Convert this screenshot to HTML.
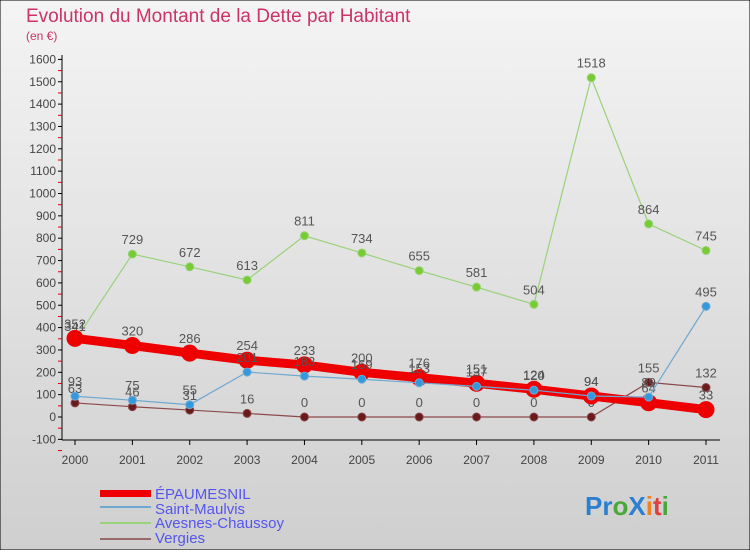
<!DOCTYPE html>
<html><head><meta charset="utf-8"><style>
html,body{margin:0;padding:0;}
body{width:750px;height:550px;overflow:hidden;font-family:"Liberation Sans",sans-serif;}
</style></head><body>
<svg id="chart" width="750" height="550" xmlns="http://www.w3.org/2000/svg">
<defs><linearGradient id="bg" x1="0" y1="0" x2="0" y2="1"><stop offset="0" stop-color="#f4f4f4"/><stop offset="1" stop-color="#cfcfcf"/></linearGradient></defs>
<rect x="0" y="0" width="750" height="550" fill="url(#bg)" stroke="#000" stroke-width="1"/>
<text x="26" y="22" font-size="19" fill="#cc3366">Evolution du Montant de la Dette par Habitant</text>
<text x="26" y="40" font-size="12" fill="#cc3366">(en €)</text>
<g id="axes"></g><g id="series"></g>
<g font-size="15" fill="#5555ee">
<rect x="100" y="490" width="51" height="7" fill="#ee0000"/>
<text x="155" y="499">ÉPAUMESNIL</text>
<line x1="100" y1="507" x2="151" y2="507" stroke="#6fa8d0" stroke-width="2"/>
<text x="155" y="514">Saint-Maulvis</text>
<line x1="100" y1="523" x2="151" y2="523" stroke="#99d27a" stroke-width="2"/>
<text x="155" y="528">Avesnes-Chaussoy</text>
<line x1="100" y1="539" x2="151" y2="539" stroke="#9a6a6a" stroke-width="2"/>
<text x="155" y="543">Vergies</text>
</g>
<text x="585" y="515" font-size="26" font-weight="bold"><tspan fill="#2a7fd0">Pr</tspan><tspan fill="#4aa83a">o</tspan><tspan fill="#2a7fd0">X</tspan><tspan fill="#f08020">i</tspan><tspan fill="#e04040">t</tspan><tspan fill="#4aa83a">i</tspan></text>
</svg>
<script>
const years=["2000","2001","2002","2003","2004","2005","2006","2007","2008","2009","2010","2011"];
const yTicks=[-100,0,100,200,300,400,500,600,700,800,900,1000,1100,1200,1300,1400,1500,1600];
const epaumesnil=[352,320,286,254,233,200,176,151,124,94,64,33];
const saintMaulvis=[93,75,55,201,183,169,153,137,120,94,89,495];
const avesnes=[341,729,672,613,811,734,655,581,504,1518,864,745];
const vergies=[63,46,31,16,0,0,0,0,0,0,155,132];
const NS="http://www.w3.org/2000/svg";
const X0=75,X1=706,Y0=417,PER=22.35;
function xs(i){return X0+(X1-X0)*i/(years.length-1);}
function ys(v){return Y0-v*PER/100;}
function mk(tag,attrs,parent){const e=document.createElementNS(NS,tag);for(const k in attrs)e.setAttribute(k,attrs[k]);parent.appendChild(e);return e;}
const axes=document.getElementById('axes');
const ax=mk('line',{x1:62,y1:55,x2:62,y2:440,stroke:'#000'},axes);


const bx=mk('line',{x1:62,y1:440,x2:720,y2:440,stroke:'#000'},axes);


yTicks.forEach(v=>{
  const y=ys(v);
  mk('line',{x1:58,y1:y,x2:62,y2:y,stroke:'#000'},axes);
  mk('line',{x1:58,y1:y+11.2,x2:62,y2:y+11.2,stroke:'#d00'},axes);
  const t=mk('text',{x:56,y:y+4,'font-size':12,'text-anchor':'end',fill:'#444'},axes);
  t.textContent=v;
  
  
});
years.forEach((yr,i)=>{
  const x=xs(i);
  mk('line',{x1:x,y1:440,x2:x,y2:445,stroke:'#000'},axes);
  const t=mk('text',{x:x,y:464,'font-size':12,'text-anchor':'middle',fill:'#444'},axes);
  t.textContent=yr;
  
  
});
const sg=document.getElementById('series');
function draw(name,data,color,lw,r,fill){
  const g=mk('g',{},sg);
  
  
  const pl=mk('polyline',{points:data.map((v,i)=>xs(i)+','+ys(v)).join(' '),fill:'none',stroke:color,'stroke-width':lw},g);
  
  
  data.forEach((v,i)=>{
    const c=mk('circle',{cx:xs(i),cy:ys(v),r:r,fill:fill,stroke:color,'stroke-width':1},g);
    
    
    const t=mk('text',{x:xs(i),y:ys(v)-10,'font-size':13,'text-anchor':'middle',fill:'#555'},g);
    t.textContent=v;
    
    
  });
}
draw('vergies',vergies,'#8a4a4a',1.2,4,'#6a1a1a');
draw('avesnes-chaussoy',avesnes,'#99d27a',1.2,4,'#77cc33');
draw('epaumesnil',epaumesnil,'#ee0000',9,8,'#ee0000');
draw('saint-maulvis',saintMaulvis,'#6fa8d0',1.2,4,'#3399dd');
</script>
</body></html>
